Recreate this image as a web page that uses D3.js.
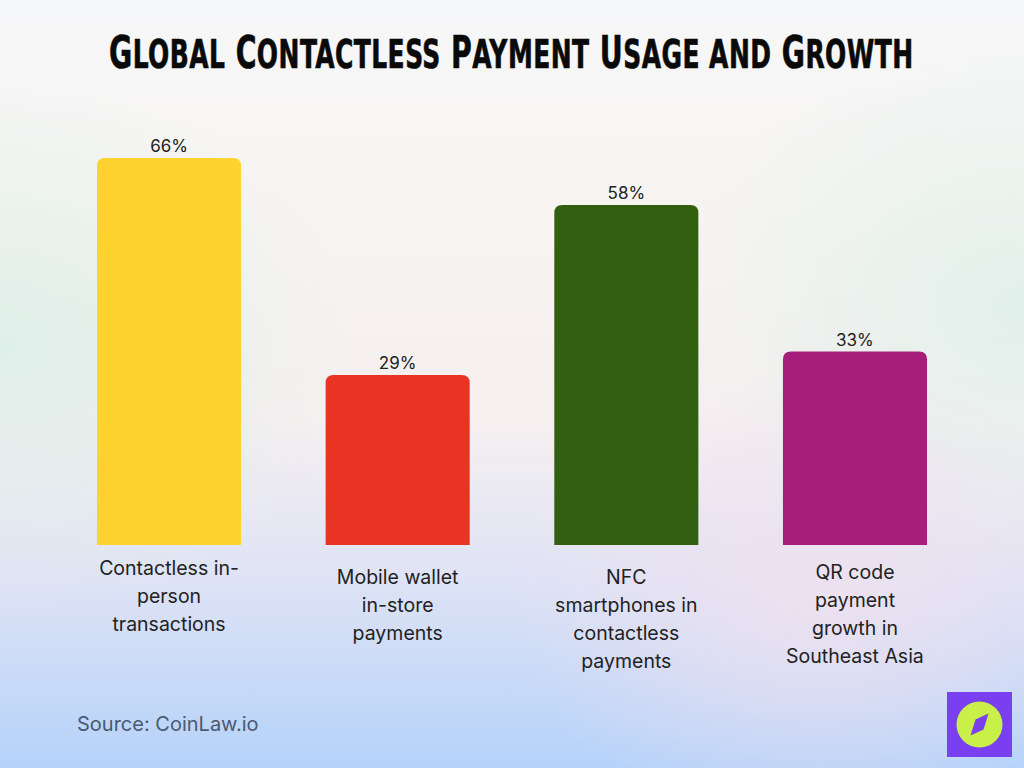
<!DOCTYPE html>
<html><head><meta charset="utf-8">
<script src="https://cdn.jsdelivr.net/npm/d3@7"></script>
<style>
html,body{margin:0;padding:0;width:1024px;height:768px;overflow:hidden;}
svg{display:block;}
</style></head>
<body>
<script>
const categories = ["Contactless in-person transactions","Mobile wallet in-store payments","NFC smartphones in contactless payments","QR code payment growth in Southeast Asia"];
const labelLines = [["Contactless in-","person","transactions"],["Mobile wallet","in-store","payments"],["NFC","smartphones in","contactless","payments"],["QR code","payment","growth in","Southeast Asia"]];
const values = [66,29,58,33];
const valueLabels = ["66%","29%","58%","33%"];
const colors = ["#FED330","#E93323","#326010","#A61E7A"];
const labelTop = [568,577,577,572];
const titleText = "Global Contactless Payment Usage and Growth";

const W=1024,H=768;
const svg=d3.select("body").append("svg").attr("width",W).attr("height",H);
const defs=svg.append("defs");
const lg=defs.append("linearGradient").attr("id","bg").attr("x1",0).attr("y1",0).attr("x2",0).attr("y2",1);
[[0,"#f6f7f8"],[0.3,"#f7f4f1"],[0.55,"#f5eff0"],[0.75,"#dfe3f5"],[1,"#b5d2fa"]].forEach(s=>lg.append("stop").attr("offset",s[0]).attr("stop-color",s[1]));
svg.append("rect").attr("width",W).attr("height",H).attr("fill","url(#bg)");
const rg1=defs.append("radialGradient").attr("id","rg1").attr("cx",0).attr("cy",0.45).attr("r",0.35);
rg1.append("stop").attr("offset",0).attr("stop-color","#dcefe8").attr("stop-opacity",0.9);
rg1.append("stop").attr("offset",1).attr("stop-color","#dcefe8").attr("stop-opacity",0);
svg.append("rect").attr("width",W).attr("height",H).attr("fill","url(#rg1)");
const rg2=defs.append("radialGradient").attr("id","rg2").attr("cx",1).attr("cy",0.4).attr("r",0.35);
rg2.append("stop").attr("offset",0).attr("stop-color","#dff0ea").attr("stop-opacity",0.9);
rg2.append("stop").attr("offset",1).attr("stop-color","#dff0ea").attr("stop-opacity",0);
svg.append("rect").attr("width",W).attr("height",H).attr("fill","url(#rg2)");
const rg3=defs.append("radialGradient").attr("id","rg3").attr("cx",0.8).attr("cy",0.78).attr("r",0.3);
rg3.append("stop").attr("offset",0).attr("stop-color","#f1e1ee").attr("stop-opacity",0.8);
rg3.append("stop").attr("offset",1).attr("stop-color","#f1e1ee").attr("stop-opacity",0);
svg.append("rect").attr("width",W).attr("height",H).attr("fill","url(#rg3)");

// title: condensed small caps, built from word tspans and scaled to fit
const tg=svg.append("g");
const title=tg.append("text").attr("x",0).attr("y",0)
  .attr("font-family","'Liberation Sans Narrow','DejaVu Sans Condensed',sans-serif").attr("font-weight","bold")
  .attr("fill","#0a0a0a").attr("stroke","#0a0a0a").attr("stroke-width",0.5).attr("letter-spacing",0.5);
titleText.split(" ").forEach((w,i)=>{
  const first=w[0], isCap=first===first.toUpperCase();
  title.append("tspan").attr("font-size",isCap?34:30).text((i?" ":"")+first.toUpperCase());
  title.append("tspan").attr("font-size",30).text(w.slice(1).toUpperCase());
});
const tw=title.node().getComputedTextLength();
const sx=805/tw;
tg.attr("transform",`translate(109,68) scale(${sx},1.3)`);

const x=d3.scaleBand().domain(categories).range([54.7,969.3]).paddingInner(0.37).paddingOuter(0.185);
const y=d3.scaleLinear().domain([0,66]).range([545,158]);
const r=8;
function barPath(d,i){
  const x0=x(d), w=x.bandwidth(), y0=y(values[i]), yb=y(0);
  return `M${x0},${yb}V${y0+r}Q${x0},${y0} ${x0+r},${y0}H${x0+w-r}Q${x0+w},${y0} ${x0+w},${y0+r}V${yb}Z`;
}
svg.selectAll("path.bar").data(categories).enter().append("path").attr("class","bar")
  .attr("d",barPath).attr("fill",(d,i)=>colors[i]);
svg.selectAll("text.val").data(categories).enter().append("text").attr("class","val")
  .attr("x",d=>x(d)+x.bandwidth()/2).attr("y",(d,i)=>y(values[i])-6).attr("text-anchor","middle")
  .attr("font-family","Inter,'Open Sans',sans-serif").attr("font-size",17).attr("fill","#222")
  .text((d,i)=>valueLabels[i]);
const lab=svg.selectAll("text.cat").data(categories).enter().append("text").attr("class","cat")
  .attr("text-anchor","middle").attr("font-family","Inter,'Open Sans',sans-serif").attr("font-size",19.5).attr("fill","#222");
lab.each(function(d,i){
  const t=d3.select(this);
  labelLines[i].forEach((l,j)=>t.append("tspan").attr("x",x(d)+x.bandwidth()/2).attr("y",labelTop[i]+7+j*28).text(l));
});

svg.append("text").attr("x",77).attr("y",731).attr("font-family","Inter,'Open Sans',sans-serif")
  .attr("font-size",20).attr("fill","#4a5a70").text("Source: CoinLaw.io");

const g=svg.append("g").attr("transform","translate(979.5,724.5)");
g.append("rect").attr("x",-32.5).attr("y",-32.5).attr("width",65).attr("height",65).attr("fill","#7B3FF2");
g.append("circle").attr("r",23).attr("fill","#C8F048");
g.append("path").attr("d","M9,-11 L4,5 L-9,11 L-4,-5 Z").attr("fill","#7B3FF2");
</script>
</body></html>
